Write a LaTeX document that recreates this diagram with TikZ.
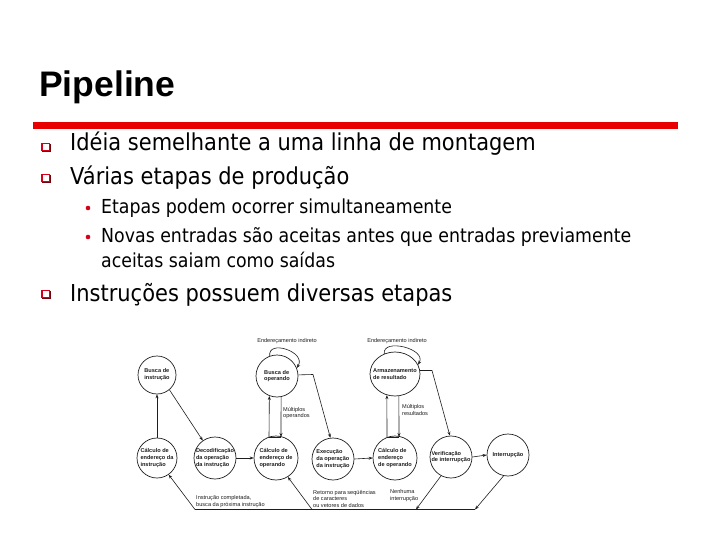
\documentclass[tikz,border=0pt]{standalone}
\usepackage{fontspec}
\setmainfont{Liberation Sans}
\newfontfamily\tahoma[FakeStretch=0.9]{DejaVu Sans}
\usetikzlibrary{arrows.meta,shapes.geometric}
\definecolor{slred}{RGB}{232,0,0}
\definecolor{bulred}{RGB}{214,0,24}
\definecolor{buldark}{RGB}{120,0,10}
\definecolor{ink}{RGB}{30,30,30}
\tikzset{
  qbullet/.pic={
    \draw[bulred,line width=1.1pt] (-4,-3.5) rectangle (3.5,3.5);
    \draw[buldark,line width=1.3pt] (4.6,-3.2) -- (4.6,4.6) -- (-3.6,4.6);
  }
}
\begin{document}
\begin{tikzpicture}[x=1pt,y=-1pt,
  st/.style={circle,draw=ink,line width=0.7pt,minimum size=40pt,inner sep=-10pt,
    font=\fontsize{5.6}{6.9}\selectfont\bfseries,align=left,text=ink},
  arr/.style={draw=ink,line width=0.6pt,-{Stealth[length=4pt,width=3pt]}},
  ln/.style={draw=ink,line width=0.6pt},
  lbl/.style={font=\fontsize{5.6}{6.8}\selectfont,align=left,inner sep=0pt,text=ink},
  mainline/.style={font=\tahoma\fontsize{23.3}{28}\selectfont,anchor=base west,inner sep=0pt},
  subline/.style={font=\tahoma\fontsize{19.3}{24}\selectfont,anchor=base west,inner sep=0pt},
]
\useasboundingbox (0,0) rectangle (720,540);
\fill[white] (0,0) rectangle (720,540);

% title and rule
\node[anchor=base west,inner sep=0pt,font=\bfseries\fontsize{35.5}{40}\selectfont] (title) at (39,97) {Pipeline};
\fill[slred] (33,122) rectangle (678,129);

% bullets
\pic at (46,147) {qbullet};
\pic at (46,178) {qbullet};
\pic at (46,294) {qbullet};
\fill[bulred] (88,208) circle (2.3);
\fill[bulred] (88,237) circle (2.3);

\node[mainline] (l1) at (70,151) {Idéia semelhante a uma linha de montagem};
\node[mainline] (l2) at (70,185) {Várias etapas de produção};
\node[subline] (s1) at (101,214) {Etapas podem ocorrer simultaneamente};
\node[subline] (s2) at (101,243) {Novas entradas são aceitas antes que entradas previamente};
\node[subline] (s3) at (101,267) {aceitas saiam como saídas};
\node[mainline] (l3) at (70,301) {Instruções possuem diversas etapas};

% states
\node[st,minimum size=38pt] (bi) at (157,375) {Busca de\\instrução};
\node[st,minimum size=42pt] (bo) at (277,376) {Busca de\\operando};
\node[st,ellipse,minimum width=50pt,minimum height=44pt] (ar) at (395,374) {Armazenamento\\de resultado};
\node[st] (ci) at (157,458) {Cálculo de\\endereço da\\instrução};
\node[st,minimum size=42pt] (do) at (215,458) {Decodificação\\da operação\\da instrução};
\node[st,minimum size=44pt] (co) at (276,458) {Cálculo de\\endereço de\\operando};
\node[st,minimum size=42pt] (ex) at (333,459) {Execução\\da operação\\da instrução};
\node[st,minimum size=44pt] (co2) at (395,458) {Cálculo de\\endereço\\de operando};
\node[st,minimum size=42pt] (vi) at (451,457) {Verificação\\de interrupção};
\node[st,minimum size=42pt] (in) at (508,455) {Interrupção};

% helper points
\coordinate (ul) at (269,437);
\coordinate (ur) at (281,437);
\coordinate (u2l) at (387,437);
\coordinate (u2r) at (399,437);
\coordinate (boex) at (313,374.5);
\coordinate (arvi) at (432,370.5);
\coordinate (b0) at (195,509.5);
\coordinate (b1) at (416,509.5);
\coordinate (b2) at (475,509.5);
\coordinate (b3) at (312,509.5);

% connectors
\draw[arr] (ci.north) -- (bi.south);
\draw[arr] (bi.-50) -- (do.125);
\draw[arr] (do.east) -- (co.west);
\draw[arr] (ul) -- (bo.-111);
\draw[arr] (bo.-79) -- (ur);
\draw[ln] (ul) -- (ur);
\draw[arr] (bo.110) .. controls +(-2,-17) and +(10,-16) .. (bo.22);
\draw[arr] (bo.3) -- (boex) -- (ex.97);
\draw[arr] (ex.east) -- (co2.west);
\draw[arr] (u2l) -- (ar.-111);
\draw[arr] (ar.-80) -- (u2r);
\draw[ln] (u2l) -- (u2r);
\draw[arr] (ar.118) .. controls +(-2,-16) and +(9,-16) .. (ar.22);
\draw[arr] (ar.8) -- (arvi) -- (vi.93);
\draw[arr] (vi.east) -- (in.west);
\draw[arr] (vi.-118) -- (b1);
\draw[arr] (in.-102) -- (b2);
\draw[ln] (b2) -- (b0);
\draw[arr] (b0) -- (ci.-55);
\draw[arr] (b3) -- (co.-58);

% labels
\node[lbl,anchor=base] (lbo) at (287,342) {Endereçamento indireto};
\node[lbl,anchor=base] (lar) at (397,342) {Endereçamento indireto};
\node[lbl,anchor=west] (lmo) at (283,413) {Múltiplos\\operandos};
\node[lbl,anchor=west] (lmr) at (402,410) {Múltiplos\\resultados};
\node[lbl,anchor=south west] (lic) at (196,508) {Instrução completada,\\busca da próxima instrução};
\node[lbl,anchor=south west] (lret) at (313,508) {Retorno para seqüências\\de caracteres\\ou vetores de dados};
\node[lbl,anchor=west] (lni) at (390,495.5) {Nenhuma\\interrupção};
\end{tikzpicture}
\end{document}
